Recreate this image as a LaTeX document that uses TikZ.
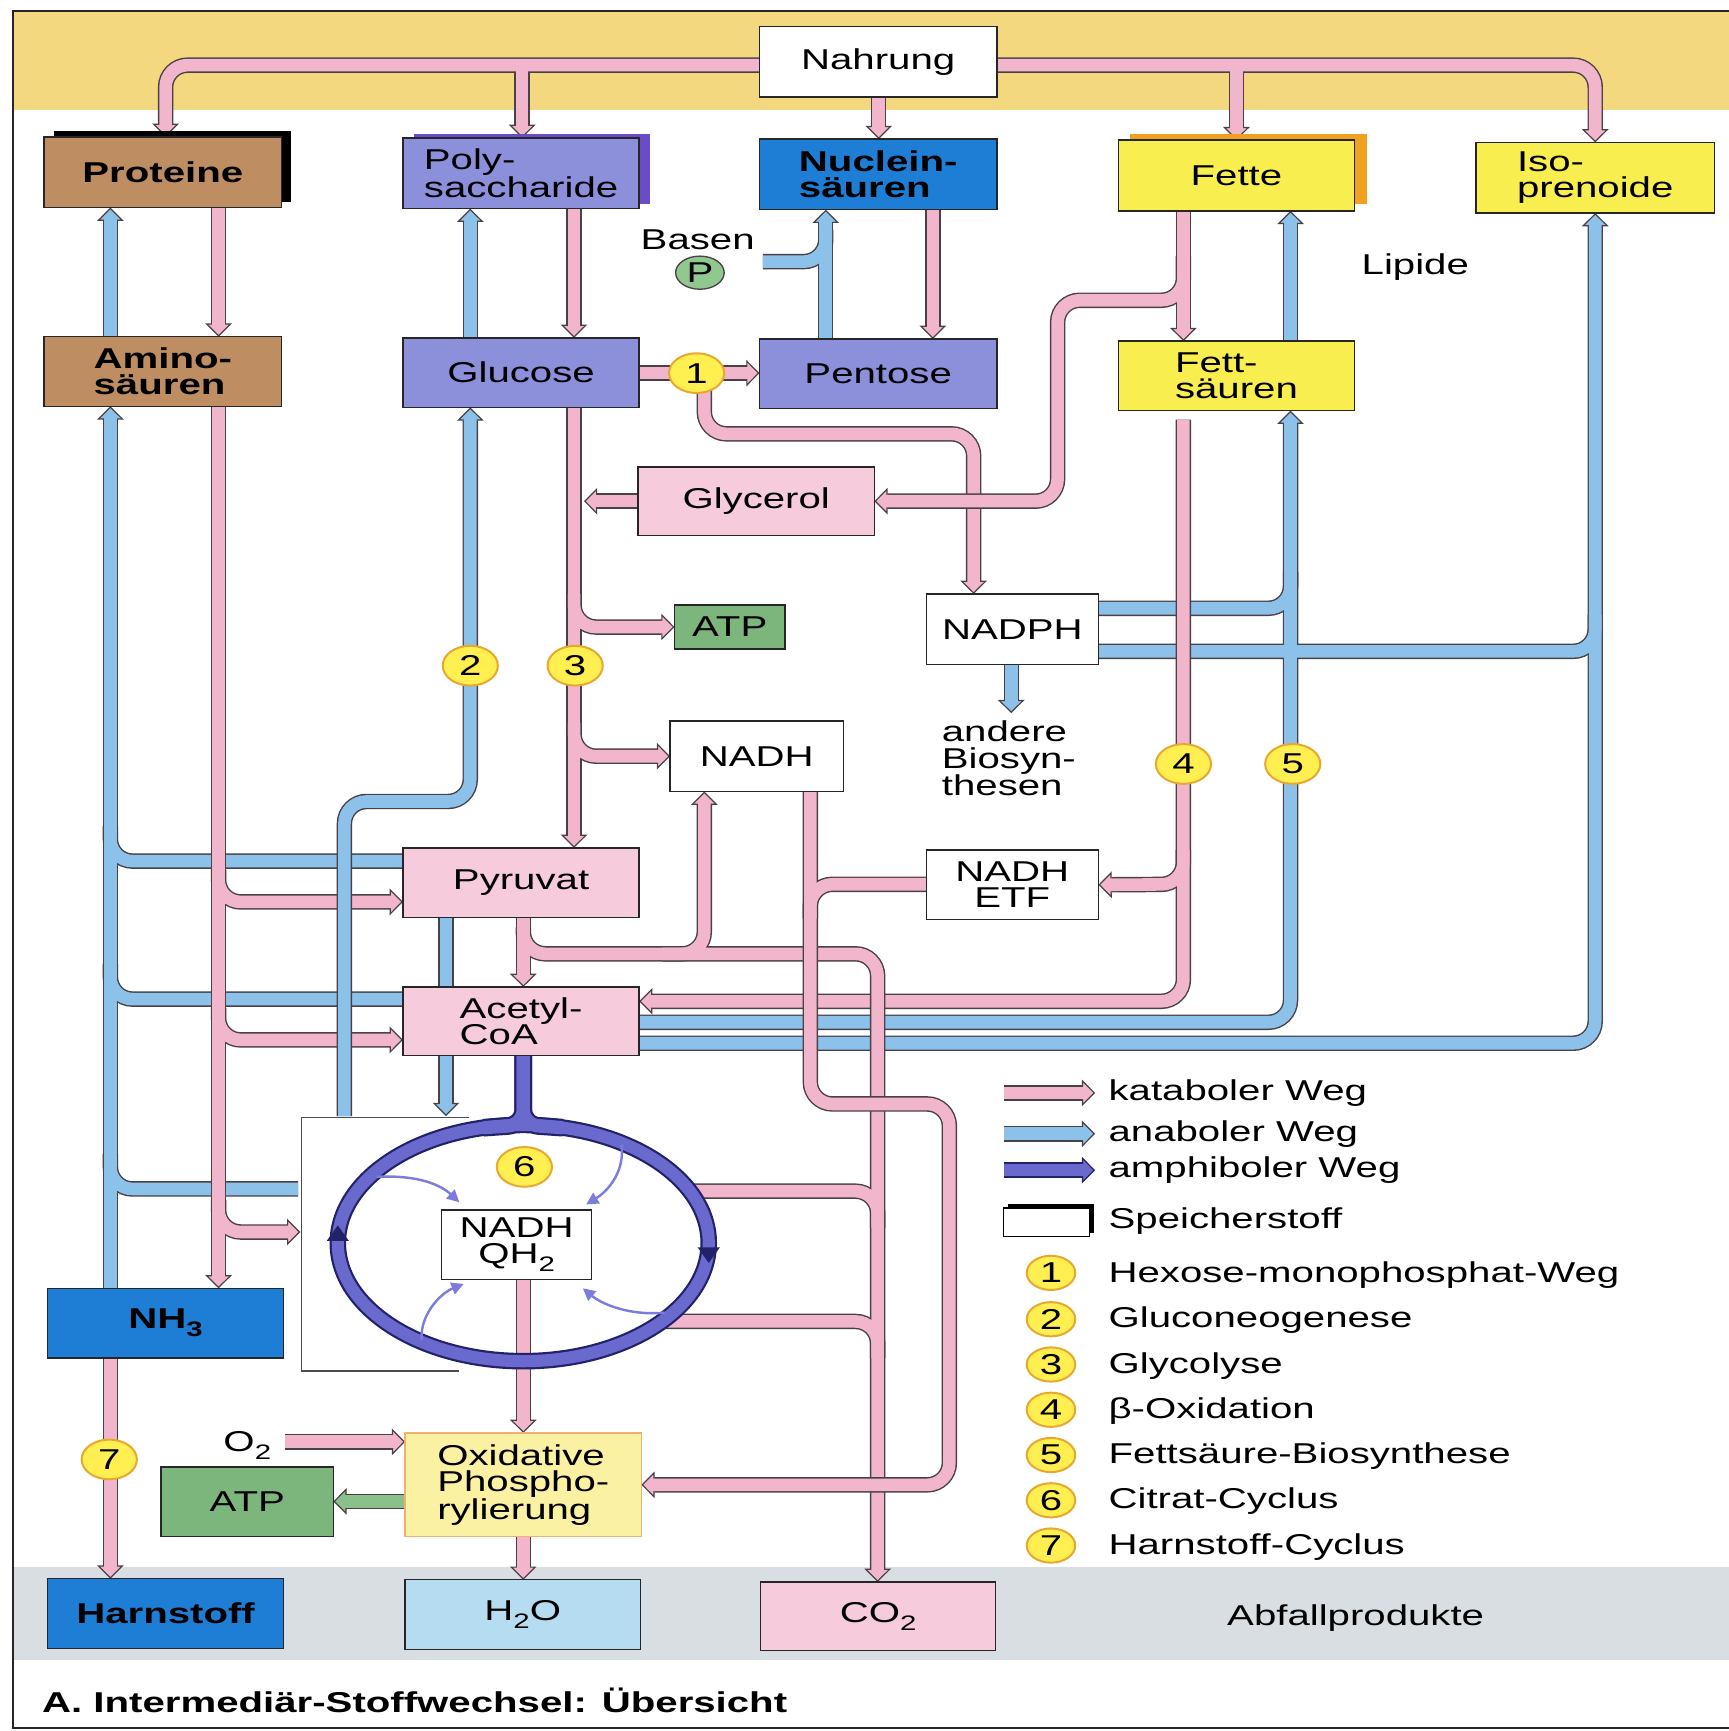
\documentclass[tikz,border=0pt]{standalone}
\usepackage{fontspec}
\setmainfont{Liberation Sans}[FakeStretch=1.4]
\usetikzlibrary{arrows.meta,shadows,shapes.geometric}
\pgfdeclarelayer{back}
\pgfdeclarelayer{pipes}
\pgfsetlayers{back,pipes,main}
\definecolor{pk}{HTML}{F2B6CC}
\definecolor{bl}{HTML}{8CC2EA}
\definecolor{dk}{HTML}{6A6ACE}
\definecolor{dko}{HTML}{22226A}
\definecolor{olc}{HTML}{4A4048}
\definecolor{brn}{HTML}{BE8E62}
\definecolor{lav}{HTML}{8C90DA}
\definecolor{nbl}{HTML}{1E7ED6}
\definecolor{yel}{HTML}{F8EE50}
\definecolor{pbox}{HTML}{F6CCDD}
\definecolor{grn}{HTML}{7DB67C}
\definecolor{lyel}{HTML}{FBF1A2}
\definecolor{oxo}{HTML}{F0B070}
\definecolor{hto}{HTML}{B6DCF2}
\definecolor{band}{HTML}{F4D880}
\definecolor{gband}{HTML}{D8DEE2}
\definecolor{bdg}{HTML}{FFEF50}
\definecolor{bdgo}{HTML}{E8A830}
\definecolor{pgr}{HTML}{90C890}
\definecolor{gpipe}{HTML}{8CC08A}
\definecolor{thinc}{HTML}{7C7CDC}
\definecolor{shp}{HTML}{6A4CC8}
\definecolor{sho}{HTML}{F2A020}
\newcommand\fs{\fontsize{26pt}{24pt}\selectfont}
\newcommand\sub[1]{\raisebox{-0.28em}{\fontsize{19pt}{19pt}\selectfont #1}}
\tikzset{
 box/.style={draw=black!85,line width=1.3pt,inner sep=0pt,outer sep=0pt,align=center,font=\fs},
 bb/.style={font=\fs\bfseries},
 pOut/.style={line width=14pt,draw=olc,rounded corners=20pt},
 pIn/.style={line width=11.4pt,draw=#1,rounded corners=20pt},
 tipo/.style={-{Triangle[length=12pt,width=24pt,line width=1.1pt,fill=#1]}},
 tipi/.style={shorten >=10pt},
 badge/.style={ellipse,draw=bdgo,line width=1.8pt,fill=bdg,minimum width=50pt,minimum height=36pt,inner sep=0pt,font=\fs},
 lbadge/.style={badge,minimum width=44pt,minimum height=31pt},
 txt/.style={font=\fs,inner sep=0pt},
 thinar/.style={draw=thinc,line width=2.2pt,-{Triangle[length=11pt,width=11pt]}},
}
\newcommand\Oa[2]{\draw[pOut,tipo=#1] #2;}
\newcommand\On[1]{\draw[pOut] #1;}
\newcommand\Ia[2]{\draw[pIn=#1,tipi] #2;}
\newcommand\Ib[2]{\draw[pIn=#1] #2;}
\newcommand\Pa[2]{\Oa{#1}{#2}\Ia{#1}{#2}}
\newcommand\bx[7]{\node[box,#6,minimum width={#4-#2},minimum height={#5-#3}] (#1) at ({(#2+#4)/2},{(#3+#5)/2}) {#7};}
\begin{document}
\begin{tikzpicture}[x=1pt,y=-1pt]
\useasboundingbox (0,0) rectangle (1566,1568);
\begin{pgfonlayer}{back}
\fill[white] (0,0) rectangle (1566,1568);
\fill[band] (12,9) rectangle (1566,100);
\fill[gband] (12,1419) rectangle (1566,1504);
\draw[line width=1.6pt,black!85] (1566,10) -- (12,10) -- (12,1565) -- (1566,1565);
\end{pgfonlayer}

% ---------- boxes ----------
\bx{nahr}{688}{24}{903}{88}{fill=white}{Nahrung}
\bx{prot}{40}{124}{255}{188}{bb,fill=brn,general shadow={shadow xshift=9pt,shadow yshift=5pt,fill=black}}{Proteine}
\bx{poly}{365}{125}{579}{189}{fill=lav,align=left,general shadow={shadow xshift=10pt,shadow yshift=4pt,fill=shp}}{Poly-\\saccharide}
\bx{nucl}{688}{126}{903}{190}{bb,fill=nbl,align=left}{Nuclein-\\säuren}
\bx{fett}{1013}{127}{1227}{191}{fill=yel,general shadow={shadow xshift=11pt,shadow yshift=6pt,fill=sho}}{Fette}
\bx{iso}{1337}{129}{1553}{193}{fill=yel,align=left}{Iso-\\prenoide}
\bx{amino}{40}{305}{255}{368}{bb,fill=brn,align=left}{Amino-\\säuren}
\bx{gluc}{365}{306}{579}{369}{fill=lav}{Glucose}
\bx{pent}{688}{307}{903}{370}{fill=lav}{Pentose}
\bx{fsr}{1013}{309}{1227}{372}{fill=yel,align=left}{Fett-\\säuren}
\bx{glyc}{578}{423}{792}{485}{fill=pbox}{Glycerol}
\bx{atpa}{611}{548}{711}{588}{fill=grn}{ATP}
\bx{nadph}{839}{538}{995}{602}{fill=white}{NADPH}
\bx{nadh}{607}{653}{764}{717}{fill=white}{NADH}
\bx{etf}{839}{770}{995}{833}{fill=white}{NADH\\ETF}
\bx{pyr}{365}{768}{579}{831}{fill=pbox}{Pyruvat}
\bx{acoa}{365}{894}{579}{956}{fill=pbox,align=left}{Acetyl-\\CoA}
\bx{nadhq}{400}{1096}{536}{1159}{fill=white}{NADH\\QH\sub{2}}
\bx{nh3}{43}{1167}{257}{1230}{bb,fill=nbl}{NH\sub{\bfseries 3}}
\bx{oxp}{367}{1298}{581}{1392}{fill=lyel,draw=oxo,align=left}{Oxidative\\Phospho-\\rylierung}
\bx{atpb}{146}{1329}{302}{1392}{fill=grn}{ATP}
\bx{harn}{43}{1430}{257}{1493}{bb,fill=nbl}{Harnstoff}
\bx{hto}{367}{1431}{580}{1494}{fill=hto}{H\sub{2}O}
\bx{cot}{689}{1433}{902}{1495}{fill=pbox}{CO\sub{2}}

% ---------- labels ----------
\node[txt] (basen) at (632,217) {Basen};
\node[ellipse,draw=olc,line width=1.2pt,fill=pgr,minimum width=44pt,minimum height=30pt,inner sep=0pt,font=\fs] (pcirc) at (634,247) {P};
\node[txt] (lipide) at (1282,242) {Lipide};
\node[txt,align=left,anchor=west] (andere) at (853,687) {andere\\Biosyn-\\thesen};
\node[txt] (abfall) at (1228,1466) {Abfallprodukte};
\node[txt] (o2) at (224,1309) {O\sub{2}};
\node[txt,font=\fs\bfseries,anchor=west] (caption) at (38,1540) {A. Intermediär-Stoffwechsel: Übersicht};

% badges
\node[badge] (b1) at (631,338) {1};
\node[badge] (b2) at (426,603) {2};
\node[badge] (b3) at (521,603) {3};
\node[badge] (b4) at (1072,692) {4};
\node[badge] (b5) at (1171,692) {5};
\node[badge] (b6) at (475,1057) {6};
\node[badge] (b7) at (99,1322) {7};

% legend
\coordinate (l1a) at (909,990); \coordinate (l1b) at (992,990);
\coordinate (l2a) at (909,1027); \coordinate (l2b) at (992,1027);
\coordinate (l3a) at (909,1060); \coordinate (l3b) at (992,1060);
\node[txt,anchor=west] (lt1) at (1004,990) {kataboler Weg};
\node[txt,anchor=west] (lt2) at (1004,1027) {anaboler Weg};
\node[txt,anchor=west] (lt3) at (1004,1060) {amphiboler Weg};
\node[draw=black,line width=1.4pt,fill=white,minimum width=78pt,minimum height=26pt,inner sep=0pt,general shadow={shadow xshift=4pt,shadow yshift=3pt,fill=black}] (spb) at (948,1107) {};
\node[txt,anchor=west] (lt4) at (1004,1106) {Speicherstoff};
\node[lbadge] (lb1) at (952,1153) {1};
\node[lbadge] (lb2) at (952,1195) {2};
\node[lbadge] (lb3) at (952,1236) {3};
\node[lbadge] (lb4) at (952,1277) {4};
\node[lbadge] (lb5) at (952,1318) {5};
\node[lbadge] (lb6) at (952,1359) {6};
\node[lbadge] (lb7) at (952,1400) {7};
\node[txt,anchor=west] (lx1) at (1004,1155) {Hexose-monophosphat-Weg};
\node[txt,anchor=west] (lx2) at (1004,1196) {Gluconeogenese};
\node[txt,anchor=west] (lx3) at (1004,1237) {Glycolyse};
\node[txt,anchor=west] (lx4) at (1004,1278) {β-Oxidation};
\node[txt,anchor=west] (lx5) at (1004,1319) {Fettsäure-Biosynthese};
\node[txt,anchor=west] (lx6) at (1004,1360) {Citrat-Cyclus};
\node[txt,anchor=west] (lx7) at (1004,1401) {Harnstoff-Cyclus};

% free ends
\coordinate (basenS) at (691,237);
\coordinate (o2S) at (258,1306);
\coordinate (glyT) at (529,454);
\coordinate (boxTL) at (273,1012);
\coordinate (boxBL) at (273,1242);
\coordinate (andT) at (916,646);

\begin{pgfonlayer}{pipes}
% gray frame of the cycle
\draw[gray!60!black,line width=1.2pt] (425,1012) -- (boxTL) -- (boxBL) -- (416,1242);

% left blue group
\Oa{bl}{(nh3.north -| 100,0) -- (amino.south -| 100,0)}
\On{(pyr.west |- 0,780) -- (100,780) -- (100,748)}
\On{(acoa.west |- 0,905) -- (100,905) -- (100,873)}
\On{(270,1077) -- (100,1077) -- (100,1045)}
\Ia{bl}{(nh3.north -| 100,0) -- (amino.south -| 100,0)}
\Ib{bl}{(pyr.west |- 0,780) -- (100,780) -- (100,748)}
\Ib{bl}{(acoa.west |- 0,905) -- (100,905) -- (100,873)}
\Ib{bl}{(270,1077) -- (100,1077) -- (100,1045)}

% left pink group
\Oa{pk}{(amino.south -| 198,0) -- (nh3.north -| 198,0)}
\Oa{pk}{(198,788) -- (198,817) -- (pyr.west |- 0,817)}
\Oa{pk}{(198,913) -- (198,942) -- (acoa.west |- 0,942)}
\Oa{pk}{(198,1087) -- (198,1116) -- (272,1116)}
\Ia{pk}{(amino.south -| 198,0) -- (nh3.north -| 198,0)}
\Ia{pk}{(198,788) -- (198,817) -- (pyr.west |- 0,817)}
\Ia{pk}{(198,913) -- (198,942) -- (acoa.west |- 0,942)}
\Ia{pk}{(198,1087) -- (198,1116) -- (272,1116)}

% blue 2 and blue pyruvat -> cycle
\Pa{bl}{(312,1011) -- (312,726) -- (426,726) -- (gluc.south -| 426,0)}
\Pa{bl}{(pyr.south -| 404,0) -- (404,1011)}

% right blue group
\Oa{bl}{(acoa.east |- 0,926) -- (1169,926) -- (fsr.south -| 1169,0)}
\Oa{bl}{(acoa.east |- 0,945) -- (1445,945) -- (iso.south -| 1445,0)}
\On{(nadph.east |- 0,551) -- (1169,551) -- (1169,518)}
\On{(nadph.east |- 0,590) -- (1445,590) -- (1445,557)}
\Ia{bl}{(acoa.east |- 0,926) -- (1169,926) -- (fsr.south -| 1169,0)}
\Ia{bl}{(acoa.east |- 0,945) -- (1445,945) -- (iso.south -| 1445,0)}
\Ib{bl}{(nadph.east |- 0,551) -- (1169,551) -- (1169,518)}
\Ib{bl}{(nadph.east |- 0,590) -- (1445,590) -- (1445,557)}

% pink 4 group (beta oxidation)
\Oa{pk}{(1072,380) -- (1072,907) -- (acoa.east |- 0,907)}
\Oa{pk}{(1072,770) -- (1072,801) -- (etf.east)}
\Ia{pk}{(1072,380) -- (1072,907) -- (acoa.east |- 0,907)}
\Ia{pk}{(1072,770) -- (1072,801) -- (etf.east)}

% pyruvat group
\Oa{pk}{(pyr.south -| 474,0) -- (acoa.north -| 474,0)}
\Oa{pk}{(474,840) -- (474,864) -- (795,864) -- (cot.north -| 795,0)}
\Oa{pk}{(600,864) -- (638,864) -- (nadh.south -| 638,0)}
\On{(625,1079) -- (795,1079) -- (795,1112)}
\On{(600,1197) -- (795,1197) -- (795,1230)}
\Ia{pk}{(pyr.south -| 474,0) -- (acoa.north -| 474,0)}
\Ia{pk}{(474,840) -- (474,864) -- (795,864) -- (cot.north -| 795,0)}
\Ia{pk}{(600,864) -- (638,864) -- (nadh.south -| 638,0)}
\Ib{pk}{(625,1079) -- (795,1079) -- (795,1112)}
\Ib{pk}{(600,1197) -- (795,1197) -- (795,1230)}

% NADH -> oxidative phosphorylation
\Oa{pk}{(nadh.south -| 734,0) -- (734,1000) -- (860,1000) -- (860,1345) -- (oxp.east |- 0,1345)}
\On{(etf.west |- 0,801) -- (734,801) -- (734,832)}
\Ia{pk}{(nadh.south -| 734,0) -- (734,1000) -- (860,1000) -- (860,1345) -- (oxp.east |- 0,1345)}
\Ib{pk}{(etf.west |- 0,801) -- (734,801) -- (734,832)}

% glycolysis group
\Oa{pk}{(gluc.south -| 520,0) -- (pyr.north -| 520,0)}
\Oa{pk}{(520,538) -- (520,568) -- (atpa.west)}
\Oa{pk}{(520,655) -- (520,685) -- (nadh.west)}
\Ia{pk}{(gluc.south -| 520,0) -- (pyr.north -| 520,0)}
\Ia{pk}{(520,538) -- (520,568) -- (atpa.west)}
\Ia{pk}{(520,655) -- (520,685) -- (nadh.west)}
\Pa{pk}{(glyc.west) -- (glyT)}

% hexose monophosphate group
\Oa{pk}{(gluc.east |- 0,338) -- (pent.west |- 0,338)}
\Oa{pk}{(638,338) -- (638,393) -- (882,393) -- (nadph.north -| 882,0)}
\Ia{pk}{(gluc.east |- 0,338) -- (pent.west |- 0,338)}
\Ia{pk}{(638,338) -- (638,393) -- (882,393) -- (nadph.north -| 882,0)}

% Fette group
\Oa{pk}{(fett.south -| 1072,0) -- (fsr.north -| 1072,0)}
\Oa{pk}{(1072,232) -- (1072,272) -- (958,272) -- (958,454) -- (glyc.east)}
\Ia{pk}{(fett.south -| 1072,0) -- (fsr.north -| 1072,0)}
\Ia{pk}{(1072,232) -- (1072,272) -- (958,272) -- (958,454) -- (glyc.east)}
\Pa{bl}{(fsr.north -| 1169,0) -- (fett.south -| 1169,0)}

% Nahrung group
\Oa{pk}{(nahr.west |- 0,59) -- (150,59) -- (prot.north -| 150,0)}
\Oa{pk}{(473,59) -- (poly.north -| 473,0)}
\Oa{pk}{(nahr.east |- 0,59) -- (1445,59) -- (iso.north -| 1445,0)}
\Oa{pk}{(1120,59) -- (fett.north -| 1120,0)}
\Ia{pk}{(nahr.west |- 0,59) -- (150,59) -- (prot.north -| 150,0)}
\Ia{pk}{(473,59) -- (poly.north -| 473,0)}
\Ia{pk}{(nahr.east |- 0,59) -- (1445,59) -- (iso.north -| 1445,0)}
\Ia{pk}{(1120,59) -- (fett.north -| 1120,0)}
\Pa{pk}{(nahr.south -| 796,0) -- (nucl.north -| 796,0)}

% short verticals
\Pa{pk}{(prot.south -| 198,0) -- (amino.north -| 198,0)}
\Pa{bl}{(amino.north -| 100,0) -- (prot.south -| 100,0)}
\Pa{pk}{(poly.south -| 520,0) -- (gluc.north -| 520,0)}
\Pa{bl}{(gluc.north -| 426,0) -- (poly.south -| 426,0)}
\Pa{pk}{(nucl.south -| 845,0) -- (pent.north -| 845,0)}
\Oa{bl}{(pent.north -| 748,0) -- (nucl.south -| 748,0)}
\On{(basenS) -- (748,237) -- (748,208)}
\Ia{bl}{(pent.north -| 748,0) -- (nucl.south -| 748,0)}
\Ib{bl}{(basenS) -- (748,237) -- (748,208)}
\Pa{bl}{(nadph.south -| 916,0) -- (andT)}

% lower arrows
\Pa{pk}{(nadhq.south -| 474,0) -- (oxp.north -| 474,0)}
\Pa{pk}{(oxp.south -| 474,0) -- (hto.north -| 474,0)}
\Pa{pk}{(o2S) -- (oxp.west |- o2S)}
\Pa{gpipe}{(oxp.west |- 0,1360) -- (atpb.east |- 0,1360)}
\Pa{pk}{(nh3.south -| 100,0) -- (harn.north -| 100,0)}

% legend arrows
\Pa{pk}{(l1a) -- (l1b)}
\Pa{bl}{(l2a) -- (l2b)}
\draw[line width=14pt,draw=dko,-{Triangle[length=12pt,width=24pt,line width=1.1pt,fill=dk]}] (l3a) -- (l3b);
\draw[line width=11.4pt,draw=dk,shorten >=10pt] (l3a) -- (l3b);

% citrate cycle ring
\draw[line width=16pt,draw=dko,rounded corners=14pt] (acoa.south -| 474,0) -- (474,1019) -- (438,1021.5);
\draw[line width=16pt,draw=dko,rounded corners=14pt] (acoa.south -| 474,0) -- (474,1019) -- (510,1021.5);
\draw[line width=15pt,draw=dko] (474,1126) ellipse [x radius=168, y radius=107];
\draw[line width=12pt,draw=dk,rounded corners=14pt] (acoa.south -| 474,0) -- (474,1019) -- (438,1021.5);
\draw[line width=12pt,draw=dk,rounded corners=14pt] (acoa.south -| 474,0) -- (474,1019) -- (510,1021.5);
\draw[line width=11pt,draw=dk] (474,1126) ellipse [x radius=168, y radius=107];
\fill[dko] (296,1124) -- (316,1124) -- (306,1110) -- cycle;
\fill[dko] (632,1130) -- (652,1130) -- (642,1144) -- cycle;
\draw[thinar] (341,1066) .. controls (380,1064) and (400,1074) .. (416,1089);
\draw[thinar] (563,1037) .. controls (566,1060) and (552,1078) .. (531,1091);
\draw[thinar] (382,1214) .. controls (380,1192) and (398,1172) .. (420,1163);
\draw[thinar] (602,1189) .. controls (572,1192) and (546,1182) .. (528,1167);
\end{pgfonlayer}
\end{tikzpicture}
\end{document}
